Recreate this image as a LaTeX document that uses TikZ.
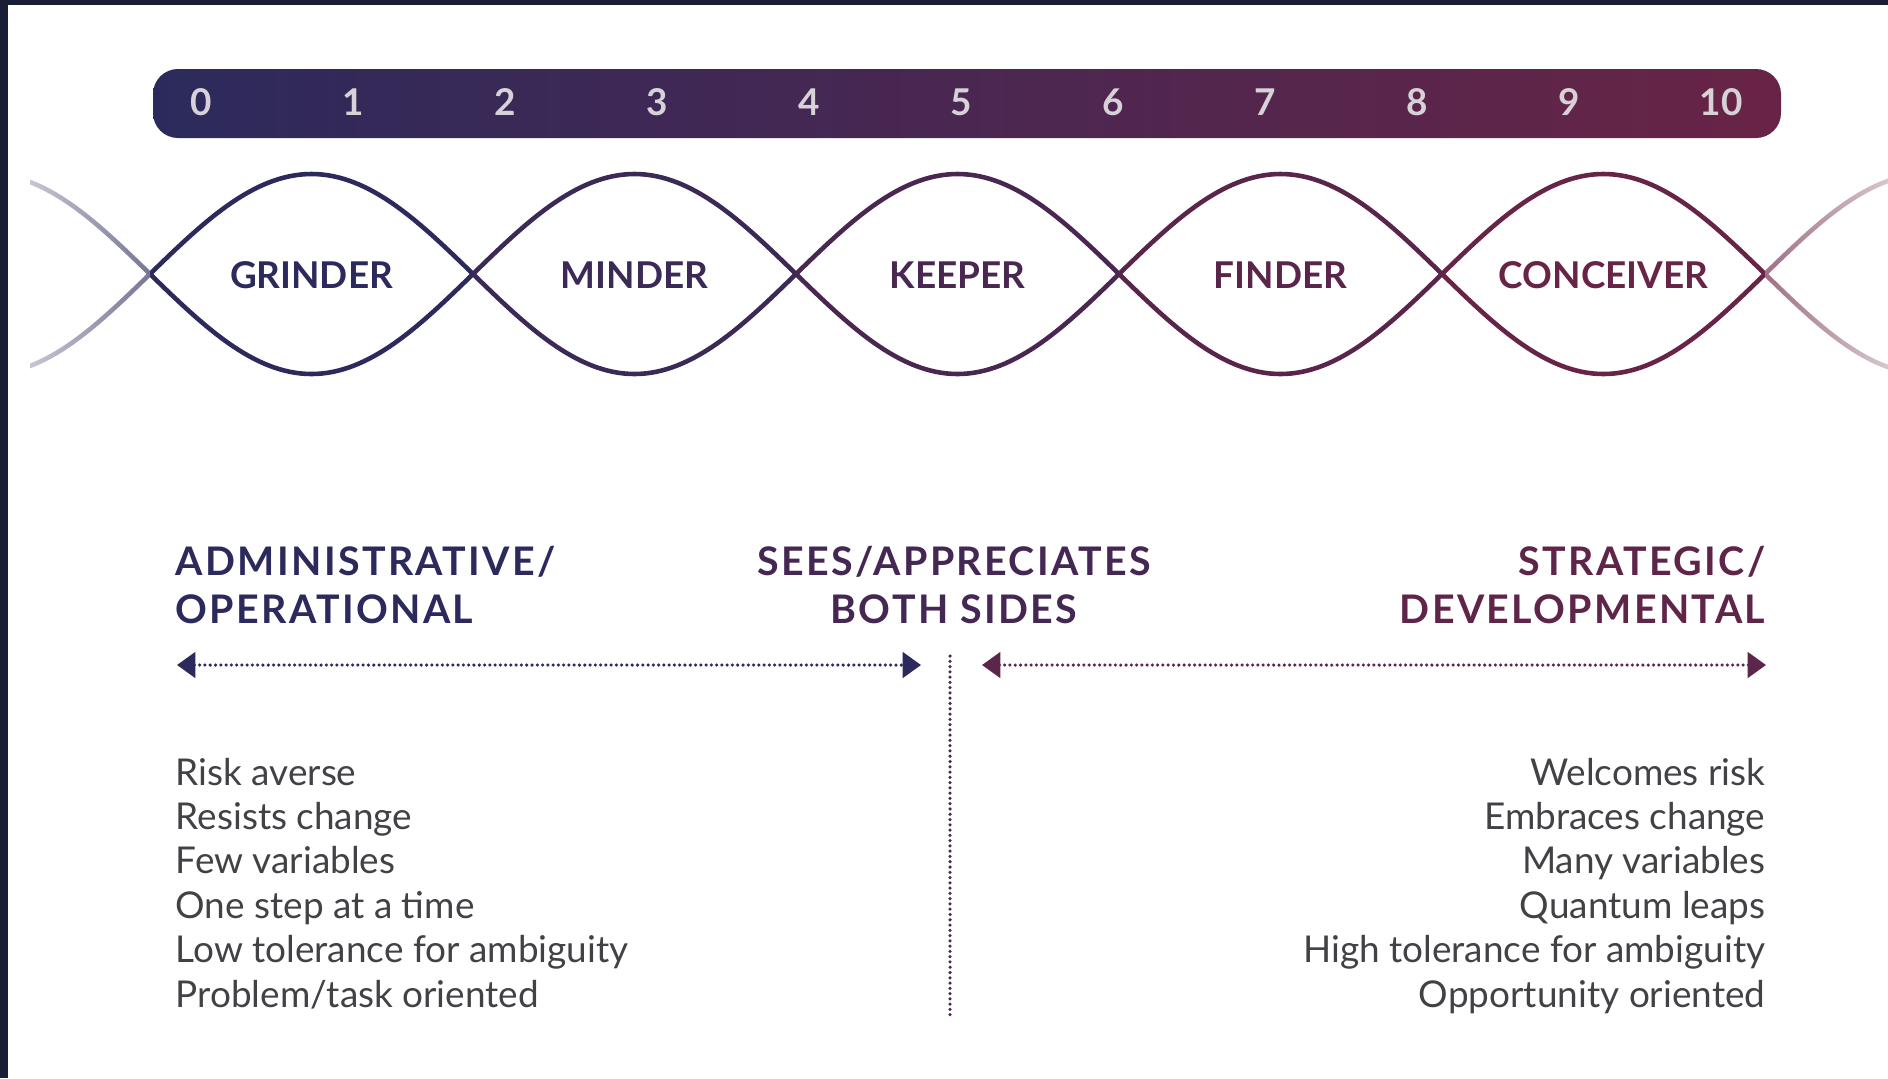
\documentclass[tikz,border=0pt]{standalone}
\usepackage{fontspec}
\setmainfont{Lato}
\usetikzlibrary{positioning}
\usetikzlibrary{arrows.meta}
\usetikzlibrary{fadings}

\definecolor{navy}{RGB}{44,42,92}
\definecolor{plum}{RGB}{104,36,70}
\definecolor{frame}{RGB}{26,29,54}
\definecolor{numgrey}{RGB}{214,210,216}
\definecolor{bodygrey}{RGB}{66,66,70}

\tikzfading[name=fadeleft, left color=transparent!80, right color=transparent!0]
\tikzfading[name=faderight, left color=transparent!0, right color=transparent!80]

\tikzset{
  numlabel/.style={font=\bfseries\fontsize{10.5}{12}\selectfont, text=numgrey, anchor=base, inner sep=0pt},
  lobelabel/.style={font=\bfseries\fontsize{10.5}{12}\selectfont, anchor=base, inner sep=0pt},
  headlabel/.style={font=\bfseries\fontsize{11.2}{13.6}\selectfont\addfontfeatures{LetterSpace=6}, inner sep=0pt},
  listlabel/.style={font=\fontsize{10.5}{12}\selectfont, text=bodygrey, inner sep=0pt},
  strand/.style={line width=1.3pt},
  dotline/.style={line width=1pt, line cap=round, dash pattern=on 0pt off 1.5pt},
  dotarrow/.style={dotline, {Triangle[length=5.2pt,width=7.2pt]}-{Triangle[length=5.2pt,width=7.2pt]}},
}

\begin{document}
\begin{tikzpicture}[x=0.01cm, y=-0.01cm]
 \useasboundingbox (0,0) rectangle (1888,1078);
 \fill[white] (0,0) rectangle (1888,1078);
 \fill[frame] (0,0) rectangle (1888,5);
 \fill[frame] (0,0) rectangle (8,1078);

 % scale bar
 \shade[left color=navy, right color=plum, rounded corners=0.25cm] (153,69) rectangle (1781,138);
 \foreach \n in {0,...,10}
  \node[numlabel] (num\n) at ({201+152*\n},115) {\n};

 % the two strands, one lobe at a time
 \foreach \k/\name/\word in {0/grinder/GRINDER, 1/minder/MINDER, 2/keeper/KEEPER, 3/finder/FINDER, 4/conceiver/CONCEIVER} {
  \pgfmathtruncatemacro\pct{25*\k}
  \colorlet{lobecol}{plum!\pct!navy}
  \draw[strand, lobecol] ({150+323*\k},274) sin ({311.5+323*\k},174) cos ({473+323*\k},274);
  \draw[strand, lobecol] ({150+323*\k},274) sin ({311.5+323*\k},374) cos ({473+323*\k},274);
  \node[lobelabel, text=lobecol] (\name) at ({311.5+323*\k},288) {\word};
 }
 \begin{scope}
  \clip (30,0) rectangle (150,1078);
  \draw[strand, navy!65, path fading=fadeleft] (150,274) sin (-11.5,174);
  \draw[strand, navy!65, path fading=fadeleft] (150,274) sin (-11.5,374);
 \end{scope}
 \begin{scope}
  \clip (1765,0) rectangle (1888,1078);
  \draw[strand, plum!65, path fading=faderight] (1765,274) sin (1926.5,174);
  \draw[strand, plum!65, path fading=faderight] (1765,274) sin (1926.5,374);
 \end{scope}

 % headings
 \node[headlabel, text=navy, anchor=base west] (adm) at (175,575) {ADMINISTRATIVE/};
 \node[headlabel, text=navy, anchor=base west] (oper) at (175,623) {OPERATIONAL};
 \node[headlabel, text=plum!40!navy, anchor=base] (sees) at (954,575) {SEES/APPRECIATES};
 \node[headlabel, text=plum!40!navy, anchor=base] (both) at (954,623) {BOTH SIDES};
 \node[headlabel, text=plum!85!navy, anchor=base east] (strat) at (1766,575) {STRATEGIC/};
 \node[headlabel, text=plum!85!navy, anchor=base east] (devel) at (1766,623) {DEVELOPMENTAL};

 % arrows and divider
 \coordinate (leftA) at (177,665);
 \coordinate (leftB) at (921,665);
 \coordinate (rightA) at (982,665);
 \coordinate (rightB) at (1766,665);
 \coordinate (divtop) at (950,656);
 \coordinate (divbot) at (950,1015);
 \draw[dotarrow, navy] (leftA) -- (leftB);
 \draw[dotarrow, plum!80!navy] (rightA) -- (rightB);
 \draw[dotline, plum!50!navy] (divtop) -- (divbot);

 % traits
 \foreach \t [count=\i from 0] in {Risk averse, Resists change, Few variables, One step at a time, Low tolerance for ambiguity, Problem/task oriented}
  \node[listlabel, anchor=base west] (lft\i) at (175,{785+44.4*\i}) {\t};
 \foreach \t [count=\i from 0] in {Welcomes risk, Embraces change, Many variables, Quantum leaps, High tolerance for ambiguity, Opportunity oriented}
  \node[listlabel, anchor=base east] (rgt\i) at (1766,{785+44.4*\i}) {\t};
\end{tikzpicture}
\end{document}
